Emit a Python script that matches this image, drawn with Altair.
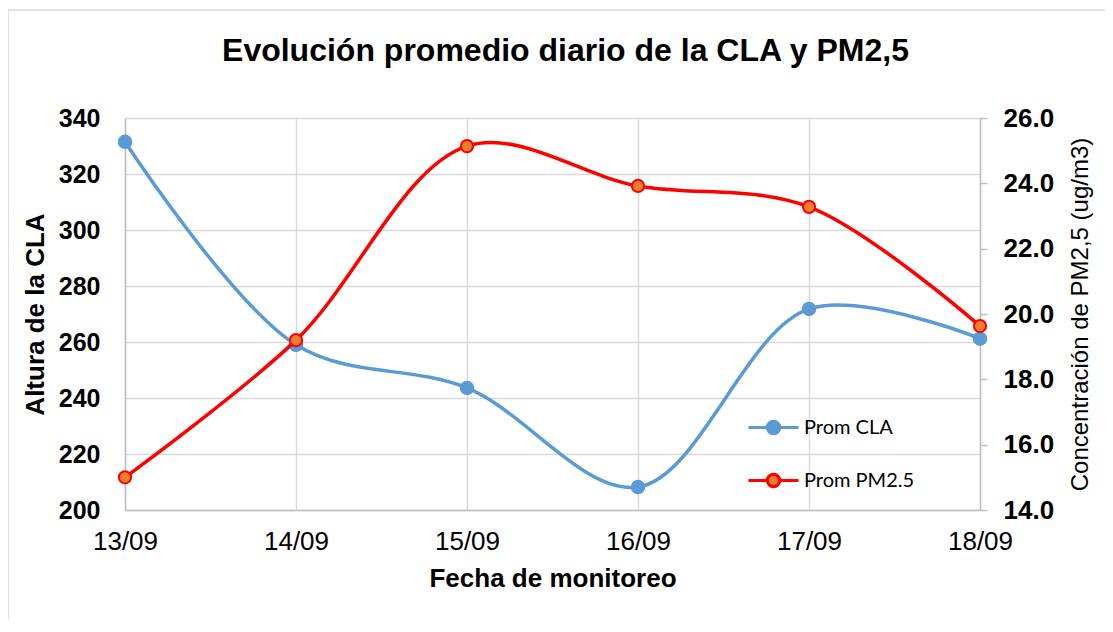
import altair as alt
import pandas as pd

fechas = ["13/09", "14/09", "15/09", "16/09", "17/09", "18/09"]
cla = [331.5, 259.0, 243.6, 208.2, 271.8, 261.2]
pm25 = [15.0, 19.2, 25.14, 23.92, 23.28, 19.63]
series = ["Prom CLA", "Prom PM2.5"]
cla_ticks = [200, 220, 240, 260, 280, 300, 320, 340]
pm_ticks = [14, 16, 18, 20, 22, 24, 26]

BLUE = "#5B9BD5"
RED = "#FF0000"
ORANGE = "#ED7D31"
GRID = "#D9D9D9"
AXIS = "#BFBFBF"
FONT = "Liberation Sans"

df_cla = pd.DataFrame({"fecha": fechas, "valor": cla, "serie": series[0]})
df_pm = pd.DataFrame({"fecha": fechas, "valor": pm25, "serie": series[1]})

x_enc = alt.X(
    "fecha:O",
    sort=fechas,
    scale=alt.Scale(type="point", padding=0),
    axis=alt.Axis(
        title="Fecha de monitoreo",
        labelAngle=0,
        labelFontSize=26,
        labelFont=FONT,
        labelColor="black",
        labelPadding=18,
        ticks=False,
        grid=True,
        gridColor=GRID,
        gridWidth=1.5,
        domainColor=AXIS,
        domainWidth=1.5,
        titleFont=FONT,
        titleFontSize=26,
        titleFontWeight="bold",
        titleColor="black",
        titlePadding=11,
    ),
)

SYMBOL = "M-1,0L-0.25,0M0.25,0L1,0M-0.25,0A0.25,0.25,0,1,1,0.25,0A0.25,0.25,0,1,1,-0.25,0Z"
legend_kw = dict(
    title=None,
    orient="none",
    legendX=622,
    legendY=283,
    padding=0,
    rowPadding=14,
    symbolType=SYMBOL,
    symbolSize=2500,
    symbolStrokeWidth=3,
    labelFont="Lato",
    labelFontSize=20,
    labelColor="black",
    labelOffset=4,
)

stroke_enc = alt.Stroke(
    "serie:N",
    scale=alt.Scale(domain=series, range=[BLUE, RED]),
    legend=alt.Legend(**legend_kw),
)
fill_enc = alt.Fill(
    "serie:N",
    scale=alt.Scale(domain=series, range=[BLUE, ORANGE]),
    legend=alt.Legend(**legend_kw),
)

y_left = alt.Y(
    "valor:Q",
    scale=alt.Scale(domain=[200, 340], nice=False, zero=False),
    axis=alt.Axis(
        title="Altura de la CLA",
        values=cla_ticks,
        orient="left",
        labelFont=FONT,
        labelFontSize=25,
        labelFontWeight="bold",
        labelColor="black",
        labelPadding=25,
        ticks=False,
        grid=True,
        gridColor=GRID,
        gridWidth=1.5,
        domainColor=AXIS,
        domainWidth=1.5,
        titleFont=FONT,
        titleFontSize=26,
        titleFontWeight="bold",
        titleColor="black",
        titlePadding=10,
    ),
)
y_right = alt.Y(
    "valor:Q",
    scale=alt.Scale(domain=[14, 26], nice=False, zero=False),
    axis=alt.Axis(
        title="Concentración de PM2,5 (ug/m3)",
        values=pm_ticks,
        format=".1f",
        orient="right",
        labelFont=FONT,
        labelFontSize=26,
        labelFontWeight="bold",
        labelColor="black",
        labelPadding=16,
        ticks=True,
        tickSize=7,
        tickColor=AXIS,
        tickWidth=1.5,
        grid=False,
        domainColor=AXIS,
        domainWidth=1.5,
        titleFont=FONT,
        titleFontSize=24,
        titleFontWeight="normal",
        titleColor="black",
        titleAngle=270,
        titlePadding=39,
    ),
)

line_cla = alt.Chart(df_cla).mark_line(
    interpolate="catmull-rom", strokeWidth=3.5
).encode(x=x_enc, y=y_left, stroke=stroke_enc)
pts_cla = alt.Chart(df_cla).mark_point(
    shape="circle", size=169, filled=True, opacity=1, strokeWidth=1.5
).encode(x=x_enc, y=y_left, stroke=stroke_enc, fill=fill_enc)

line_pm = alt.Chart(df_pm).mark_line(
    interpolate="catmull-rom", strokeWidth=3.5
).encode(x=x_enc, y=y_right, stroke=stroke_enc)
pts_pm = alt.Chart(df_pm).mark_point(
    shape="circle", size=150, filled=True, opacity=1, strokeWidth=2
).encode(x=x_enc, y=y_right, stroke=stroke_enc, fill=fill_enc)

left = alt.layer(line_cla, pts_cla)
right = alt.layer(line_pm, pts_pm)

border_df = pd.DataFrame({"k": [0]})
border_left = alt.Chart(border_df).mark_rule(color=GRID, strokeWidth=1.5).encode(
    x=alt.value(-117), y=alt.value(-108), y2=alt.value(520)
)
border_top = alt.Chart(border_df).mark_rule(color=GRID, strokeWidth=1.5).encode(
    x=alt.value(-117), x2=alt.value(1000), y=alt.value(-108)
)

chart = (
    alt.layer(border_left, border_top, left, right)
    .resolve_scale(y="independent")
    .properties(
        width=855,
        height=392,
        autosize="none",
        padding={"left": 117, "top": 110, "right": 125, "bottom": 110},
        title=alt.TitleParams(
            text="Evolución promedio diario de la CLA y PM2,5",
            font=FONT,
            fontSize=32,
            fontWeight="bold",
            color="black",
            anchor="middle",
            dx=13,
            dy=84,
            baseline="alphabetic",
            offset=0,
        ),
    )
    .configure_view(strokeWidth=0)
    .configure(background="white")
)

chart.save("out.html", embed_options={"renderer": "svg", "actions": False})
